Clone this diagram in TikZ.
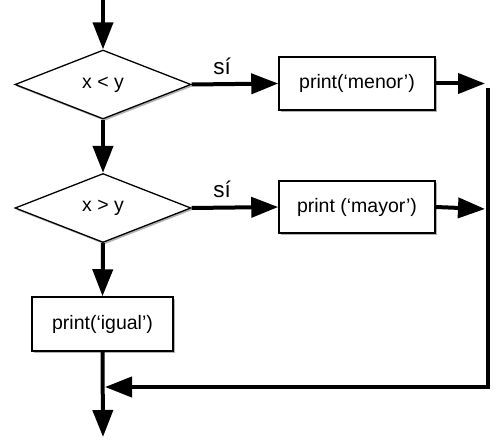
\documentclass[tikz,border=0pt]{standalone}
\usepackage{fontspec}
\setmainfont{Liberation Sans}
\usetikzlibrary{arrows.meta,shapes.geometric,shadows}
\begin{document}
\begin{tikzpicture}[x=1pt,y=-1pt,
  flow/.style={line width=4pt,line join=miter},
  arr/.style={flow,-{Triangle[length=27pt,width=20pt]}},
  shade/.style={drop shadow={shadow xshift=1.5pt,shadow yshift=-2pt,opacity=0.3,fill=black}},
  cond/.style={diamond,draw,line width=1.3pt,fill=white,shade,minimum width=176pt,minimum height=69pt,aspect=2.55,inner sep=0pt,font=\fontsize{19.5}{22}\selectfont},
  stmt/.style={rectangle,draw,line width=1.5pt,fill=white,shade,inner sep=0pt,font=\fontsize{19.5}{22}\selectfont},
  lbl/.style={font=\fontsize{22.5}{26}\selectfont}]
\useasboundingbox (0,0) rectangle (504,444);
\coordinate (top) at (103,0);
\node[cond] (d1) at (103,84.5) {x < y};
\node[cond] (d2) at (103,208) {x > y};
\node[stmt,minimum width=156pt,minimum height=53pt] (b1) at (357,83.5) {print(‘menor’)};
\node[stmt,minimum width=156pt,minimum height=52pt] (b2) at (357,207) {print (‘mayor’)};
\node[stmt,minimum width=141pt,minimum height=54pt] (b3) at (102.5,324) {print(‘igual’)};
\coordinate (c1) at (485,83.5);
\coordinate (c2) at (485,209);
\coordinate (v1) at (488,88);
\coordinate (v2) at (488,387);
\coordinate (j) at (105,387);
\coordinate (bottom) at (103,437);
\draw[arr] (top) -- (d1.north);
\draw[arr] (d1.south) -- (d2.north);
\draw[arr] (d2.south) -- (b3.north);
\draw[arr] (d1.east) -- (b1.west);
\draw[arr] (d2.east) -- (b2.west);
\draw[arr] (b1.east) -- (c1);
\draw[arr] (b2.east) -- (c2);
\draw[arr] (v1) -- (v2) -- (j);
\draw[arr] (b3.south) -- (bottom);
\node[lbl] (s1) at (222,66) {sí};
\node[lbl] (s2) at (222,189) {sí};
\end{tikzpicture}
\end{document}
